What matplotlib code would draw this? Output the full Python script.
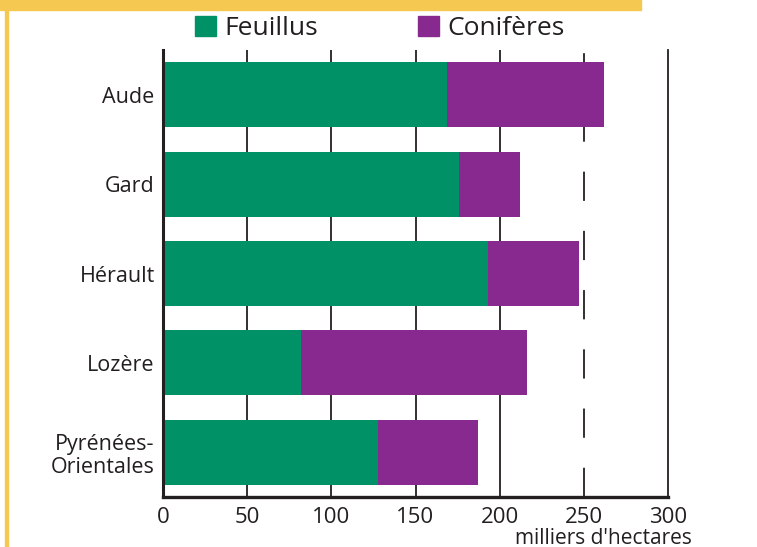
import numpy as np
import matplotlib
matplotlib.use("Agg")
import matplotlib.pyplot as plt
from matplotlib.patches import Rectangle, Patch

# surfaces boisées (milliers d'hectares)
departements = ["Aude", "Gard", "Hérault", "Lozère", "Pyrénées-\nOrientales"]
feuillus = [169, 176, 193, 82, 128]
coniferes = [93, 36, 54, 134, 59]
xticks = [0, 50, 100, 150, 200, 250, 300]

GREEN = "#009266"
PURPLE = "#87298e"
YELLOW = "#f4c851"
INK = "#231f20"

plt.rcParams["font.family"] = ["Open Sans", "DejaVu Sans"]

W, H = 757, 547
fig = plt.figure(figsize=(W / 100, H / 100), dpi=100)
ax = fig.add_axes([163 / W, 1 - 497 / H, (668 - 163) / W, (497 - 50) / H])

# cadre jaune
fig.patches.append(Rectangle((0, 1 - 10 / H), 641 / W, 10 / H, transform=fig.transFigure,
                             color=YELLOW, zorder=0))
fig.patches.append(Rectangle((5 / W, 0), 3 / W, 1, transform=fig.transFigure,
                             color=YELLOW, zorder=0))

y = np.arange(len(departements))
ax.barh(y, feuillus, height=0.725, color=GREEN, zorder=2, label="Feuillus")
ax.barh(y, coniferes, left=feuillus, height=0.725, color=PURPLE, zorder=2, label="Conifères")

for v in xticks[1:-1]:
    if v == 250:
        ax.axvline(v, color=INK, lw=1.3, dashes=(16.2, 16.6), zorder=1)
    else:
        ax.axvline(v, color=INK, lw=1.3, zorder=1)

ax.set_xlim(0, 300)
ax.set_ylim(4.5, -0.5)
ax.set_xticks(xticks)
ax.set_yticks(y)
ax.set_yticklabels(departements, fontsize=15.5, color=INK, linespacing=1.15,
                   multialignment="right")
ax.tick_params(axis="x", length=0, pad=7, labelsize=16, labelcolor=INK)
ax.tick_params(axis="y", length=0, pad=6)

ax.spines["top"].set_visible(False)
ax.spines["left"].set_linewidth(2.2)
ax.spines["bottom"].set_linewidth(2.4)
ax.spines["right"].set_linewidth(1.3)
for s in ["left", "bottom", "right"]:
    ax.spines[s].set_color(INK)

fig.text(692 / W, 1 - 538 / H, "milliers d'hectares", ha="right", va="center",
         fontsize=15, color=INK)

handles = [Patch(color=GREEN), Patch(color=PURPLE)]
fig.legend(handles, ["Feuillus", "Conifères"], loc="center left",
           bbox_to_anchor=(195 / W, 1 - 28.5 / H), ncol=2, frameon=False, borderpad=0,
           borderaxespad=0, fontsize=19, handlelength=0.8, handleheight=0.8,
           handletextpad=0.3, columnspacing=3.8, labelcolor=INK)

fig.savefig("out.png", dpi=100)
